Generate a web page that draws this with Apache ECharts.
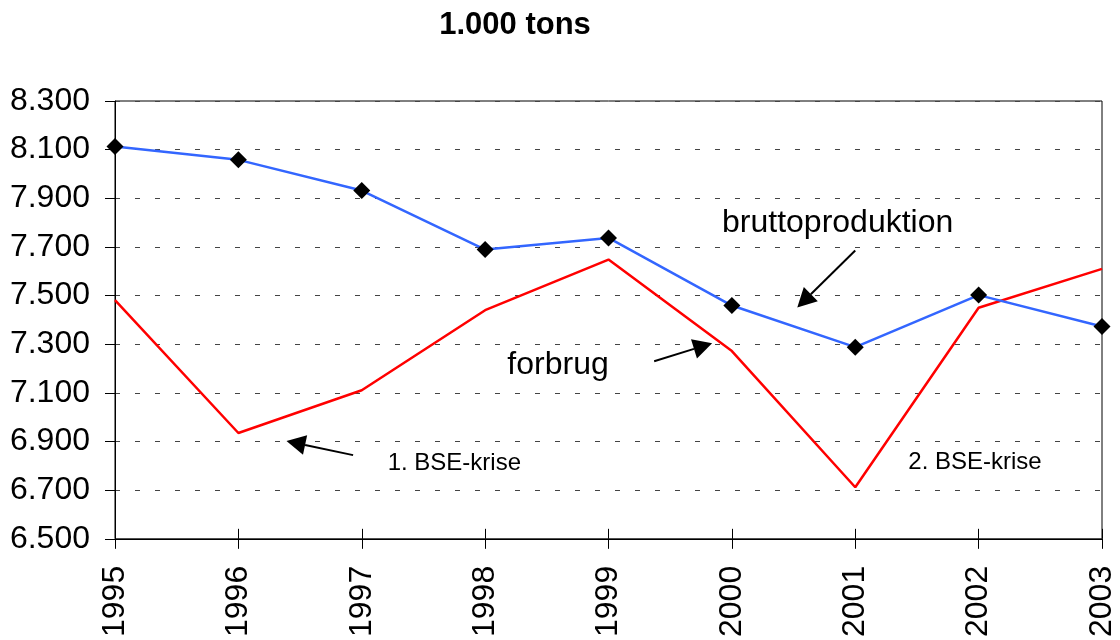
<!DOCTYPE html>
<html lang="da">
<head>
    <meta charset="UTF-8">
    <title>1.000 tons</title>
    <script src="https://cdn.jsdelivr.net/npm/echarts@6/dist/echarts.min.js"></script>
    <style>
        html, body { margin: 0; padding: 0; background: #fff; }
    </style>
</head>
<body>
    <div id="main" style="width: 1120px;height: 640px"></div>
    <script type="text/javascript">
        var years = [1995, 1996, 1997, 1998, 1999, 2000, 2001, 2002, 2003];
        var brutto = [8113, 8058, 7932, 7689, 7737, 7459, 7288, 7502, 7373];
        var forbrug = [7481, 6935, 7111, 7440, 7648, 7272, 6712, 7450, 7610];

        // annotation texts and arrows, in data coordinates [year, value]
        var notes = [
            { text: 'bruttoproduktion', at: [1999.92, 7796], size: 32 },
            { text: 'forbrug', at: [1998.18, 7213], size: 32 },
            { text: '1. BSE-krise', at: [1997.21, 6812], size: 24 },
            { text: '2. BSE-krise', at: [2001.43, 6816], size: 24 }
        ];
        var arrows = [
            { from: [2001.0, 7685], to: [2000.53, 7451] },
            { from: [1999.37, 7230], to: [1999.84, 7304] },
            { from: [1996.93, 6844], to: [1996.39, 6902] }
        ];

        var font = 'Liberation Sans, Arial, sans-serif';

        function pairs(vals) {
            return years.map(function (y, i) { return [y, vals[i]]; });
        }

        var option = {
            animation: false,
            title: {
                text: '1.000 tons',
                left: 510,
                top: 5,
                textAlign: 'center',
                textStyle: { fontFamily: font, fontSize: 31, fontWeight: 'bold', color: '#000' }
            },
            grid: {
                left: 115, right: 18, top: 101, bottom: 100,
                show: true, borderColor: '#000', borderWidth: 1, backgroundColor: 'transparent'
            },
            xAxis: [{
                type: 'value',
                min: 1995, max: 2003, interval: 1,
                axisLine: { lineStyle: { color: '#000', width: 1 } },
                axisTick: { length: 10, lineStyle: { color: '#000' } },
                splitLine: { show: false },
                axisLabel: {
                    rotate: 90, margin: 27,
                    fontFamily: font, fontSize: 32, color: '#000',
                    formatter: function (v) { return String(v); }
                }
            }, {
                type: 'value',
                position: 'bottom',
                min: 1995, max: 2003, interval: 1,
                axisLine: { show: false },
                axisTick: { inside: true, length: 10, lineStyle: { color: '#000' } },
                splitLine: { show: false },
                axisLabel: { show: false }
            }],
            yAxis: {
                type: 'value',
                min: 6500, max: 8300, interval: 200,
                axisLine: { show: true, lineStyle: { color: '#000', width: 1 } },
                axisTick: { show: true, length: 10, lineStyle: { color: '#000' } },
                splitLine: { lineStyle: { color: '#444', type: [5, 15], width: 1 } },
                axisLabel: {
                    margin: 25,
                    fontFamily: font, fontSize: 32, color: '#000',
                    formatter: function (v) { return (v / 1000).toFixed(3); }
                }
            },
            series: [
                {
                    name: 'forbrug',
                    type: 'line',
                    symbol: 'none',
                    lineStyle: { color: '#ff0000', width: 2.5 },
                    data: pairs(forbrug)
                },
                {
                    name: 'bruttoproduktion',
                    type: 'line',
                    symbol: 'diamond',
                    symbolSize: 17,
                    itemStyle: { color: '#000' },
                    lineStyle: { color: '#3366ff', width: 2.5 },
                    data: pairs(brutto)
                }
            ]
        };

        var myChart = echarts.init(document.getElementById('main'));
        myChart.setOption(option);

        var graphics = [];
        notes.forEach(function (n) {
            var p = myChart.convertToPixel({ gridIndex: 0 }, n.at);
            graphics.push({
                type: 'text',
                x: p[0], y: p[1],
                style: {
                    text: n.text, fill: '#000',
                    font: n.size + 'px ' + font,
                    textAlign: 'left', textVerticalAlign: 'middle'
                }
            });
        });
        arrows.forEach(function (a) {
            var s = myChart.convertToPixel({ gridIndex: 0 }, a.from);
            var t = myChart.convertToPixel({ gridIndex: 0 }, a.to);
            var dx = t[0] - s[0], dy = t[1] - s[1];
            var len = Math.sqrt(dx * dx + dy * dy);
            var ux = dx / len, uy = dy / len;
            var headLen = 19, headW = 10;
            var bx = t[0] - ux * headLen, by = t[1] - uy * headLen;
            graphics.push({
                type: 'line',
                shape: { x1: s[0], y1: s[1], x2: bx, y2: by },
                style: { stroke: '#000', lineWidth: 2 }
            });
            graphics.push({
                type: 'polygon',
                shape: { points: [[t[0], t[1]], [bx - uy * headW, by + ux * headW], [bx + uy * headW, by - ux * headW]] },
                style: { fill: '#000' }
            });
        });
        myChart.setOption({ graphic: graphics });
    </script>
</body>
</html>
